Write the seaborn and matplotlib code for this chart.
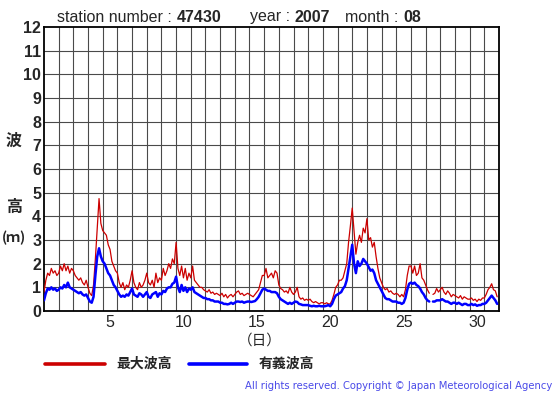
import numpy as np
import pandas as pd
import matplotlib.pyplot as plt
from matplotlib.lines import Line2D
import seaborn as sns


# Wave heights (m), 3-hourly (00,03,...,21h), one row per day
max_wave = [
    0.8, 1.3, 1.6, 1.5, 1.8, 1.6, 1.7, 1.5,
    1.6, 1.9, 1.7, 2.0, 1.7, 1.9, 1.6, 1.8,
    1.7, 1.5, 1.4, 1.3, 1.4, 1.2, 1.1, 1.3,
    1.0, 0.75, 0.65, 1.1, 2.2, 3.5, 4.75, 3.7,
    3.4, 3.3, 3.2, 2.8, 2.6, 2.1, 1.9, 1.7,
    1.6, 1.2, 1.0, 1.2, 0.9, 1.1, 1.0, 1.3,
    1.7, 1.2, 1.0, 0.9, 1.2, 1.0, 1.1, 1.3,
    1.6, 1.2, 1.1, 1.3, 1.0, 1.6, 1.2, 1.4,
    1.3, 1.8, 1.5, 1.7, 2.0, 1.8, 2.2, 2.0,
    2.9, 1.8, 1.5, 1.9, 1.4, 1.8, 1.3, 1.6,
    1.4, 1.9, 1.3, 1.2, 1.1, 1.0, 1.0, 0.9,
    0.85, 0.8, 0.9, 0.75, 0.8, 0.7, 0.75, 0.7,
    0.65, 0.75, 0.6, 0.7, 0.55, 0.65, 0.7, 0.6,
    0.7, 0.8, 0.85, 0.7, 0.75, 0.65, 0.7, 0.75,
    0.7, 0.65, 0.6, 0.7, 0.8, 0.9, 1.2, 1.5,
    1.5, 1.8, 1.4, 1.5, 1.6, 1.4, 1.7, 1.6,
    1.1, 0.95, 0.9, 0.8, 0.85, 0.75, 1.0, 0.8,
    0.7, 0.8, 1.0, 0.6, 0.5, 0.55, 0.45, 0.5,
    0.45, 0.5, 0.4, 0.35, 0.4, 0.35, 0.3, 0.35,
    0.35, 0.3, 0.35, 0.3, 0.3, 0.45, 0.7, 1.0,
    1.1, 1.3, 1.3, 1.4, 1.7, 2.0, 2.9, 3.6,
    4.35, 3.4, 2.4, 2.9, 3.2, 2.9, 3.5, 3.3,
    3.9, 3.0, 3.1, 2.7, 2.9, 2.3, 1.8, 1.4,
    1.2, 1.0, 0.9, 0.95, 0.8, 0.85, 0.75, 0.7,
    0.75, 0.7, 0.6, 0.7, 0.6, 0.9, 1.5, 1.9,
    1.9, 1.6, 1.9, 1.5, 1.6, 2.0, 1.4, 1.3,
    1.1, 0.9, 0.75, np.nan, 0.7, 0.75, 0.95, 0.8,
    0.9, 1.0, 0.8, 0.7, 0.85, 0.75, 0.6, 0.7,
    0.65, 0.6, 0.55, 0.65, 0.5, 0.6, 0.55, 0.5,
    0.5, 0.55, 0.45, 0.5, 0.4, 0.5, 0.45, 0.55,
    0.55, 0.7, 0.9, 1.0, 1.15, 0.9, 0.85, 0.6,
]

sig_wave = [
    0.45, 0.75, 0.95, 0.9, 1.0, 0.9, 0.95, 0.85,
    0.9, 1.0, 0.95, 1.1, 1.0, 1.2, 1.0, 0.95,
    0.9, 0.85, 0.8, 0.75, 0.8, 0.7, 0.65, 0.7,
    0.55, 0.4, 0.35, 0.6, 1.5, 2.3, 2.65, 2.3,
    2.1, 2.0, 1.8, 1.6, 1.5, 1.3, 1.1, 1.0,
    0.85, 0.7, 0.6, 0.65, 0.6, 0.7, 0.65, 0.8,
    0.95, 0.7, 0.65, 0.6, 0.75, 0.7, 0.6, 0.7,
    0.8, 0.6, 0.55, 0.7, 0.75, 0.8, 0.6, 0.75,
    0.7, 0.85, 0.8, 0.95, 1.0, 1.0, 1.15, 1.2,
    1.45, 1.0, 0.8, 1.1, 0.85, 1.0, 0.8, 0.95,
    0.9, 1.0, 0.8, 0.75, 0.7, 0.65, 0.6, 0.55,
    0.55, 0.5, 0.5, 0.45, 0.45, 0.4, 0.4, 0.4,
    0.35, 0.35, 0.3, 0.3, 0.28, 0.3, 0.35, 0.3,
    0.35, 0.4, 0.4, 0.38, 0.4, 0.35, 0.38, 0.4,
    0.4, 0.38, 0.4, 0.42, 0.5, 0.6, 0.75, 0.9,
    0.95, 0.9, 0.85, 0.85, 0.8, 0.8, 0.8, 0.75,
    0.6, 0.5, 0.45, 0.4, 0.35, 0.3, 0.35, 0.3,
    0.35, 0.4, 0.38, 0.3, 0.28, 0.25, 0.25, 0.25,
    0.25, 0.22, 0.2, 0.22, 0.2, 0.2, 0.22, 0.2,
    0.2, 0.2, 0.22, 0.25, 0.2, 0.3, 0.5, 0.65,
    0.7, 0.75, 0.8, 0.95, 1.05, 1.3, 1.8, 2.3,
    2.8, 2.0, 1.6, 2.1, 1.9, 2.0, 2.2, 2.1,
    2.0, 1.85, 1.7, 1.75, 1.6, 1.3, 1.15, 1.0,
    0.85, 0.7, 0.55, 0.5, 0.5, 0.45, 0.4, 0.4,
    0.4, 0.35, 0.35, 0.3, 0.35, 0.55, 0.9, 1.15,
    1.2, 1.15, 1.2, 1.1, 1.05, 0.95, 0.8, 0.7,
    0.55, 0.45, 0.4, np.nan, 0.4, 0.4, 0.45, 0.45,
    0.45, 0.5, 0.45, 0.4, 0.4, 0.35, 0.3, 0.35,
    0.35, 0.3, 0.35, 0.3, 0.25, 0.3, 0.3, 0.25,
    0.25, 0.3, 0.25, 0.28, 0.22, 0.25, 0.25, 0.3,
    0.3, 0.35, 0.45, 0.55, 0.65, 0.55, 0.45, 0.3,
]

day_ticks = [5, 10, 15, 20, 25, 30]
height_ticks = list(range(0, 13))

header = [("station number :", "47430"), ("year :", "2007"), ("month :", "08")]
header_x = [57, 250, 345]

STEP_HOURS = 3
RED = "#cc0000"
BLUE = "#0000ff"
W, H = 555, 395

sns.set_style("white")
plt.rcParams["font.family"] = ["Liberation Sans", "DejaVu Sans"]
CJK = ["Noto Sans CJK JP", "DejaVu Sans"]


def series_frame(values):
    df = pd.DataFrame({"h": values})
    # day d is centred on x = d
    df["x"] = 0.5 + np.arange(len(df)) * STEP_HOURS / 24
    df["seg"] = df["h"].isna().cumsum()
    return df.dropna()


def fx(px):
    return px / W


def fy(py):
    return 1 - py / H


fig = plt.figure(figsize=(W / 100, H / 100), dpi=100)
ax = fig.add_axes([fx(44), fy(311), 455 / W, 284 / H])

sns.lineplot(data=series_frame(max_wave), x="x", y="h", units="seg",
             estimator=None, color=RED, lw=0.9, ax=ax, zorder=3)
sns.lineplot(data=series_frame(sig_wave), x="x", y="h", units="seg",
             estimator=None, color=BLUE, lw=1.8, ax=ax, zorder=4)

ax.set_xlim(0.5, 31.5)
ax.set_ylim(0, 12)
ax.set_xticks(day_ticks)
ax.set_yticks(height_ticks)
ax.set_xticklabels([str(d) for d in day_ticks], fontsize=11.5)
ax.set_yticklabels([str(v) for v in height_ticks], fontsize=11.5, fontweight="bold")
ax.tick_params(axis="both", which="both", length=0)
ax.tick_params(axis="x", pad=3)
ax.tick_params(axis="y", pad=2)
ax.set_xlabel("")
ax.set_ylabel("")

ax.grid(False)
for v in height_ticks[1:-1]:
    ax.axhline(v, color="#4a4a4a", lw=0.8, zorder=1)
for d in np.arange(1.5, 31.5, 1):
    ax.axvline(d, color="#4a4a4a", lw=0.8, zorder=1)

for s in ax.spines.values():
    s.set_visible(True)
    s.set_color("black")
    s.set_linewidth(1.3)

# header: regular label followed by bold number
renderer = fig.canvas.get_renderer()
for (label, num), x0 in zip(header, header_x):
    t = fig.text(fx(x0), fy(17), label + " ", fontsize=11.5, va="center")
    x1 = t.get_window_extent(renderer).x1
    fig.text(x1 / W, fy(17), num, fontsize=11.5, fontweight="bold", va="center")

# y axis label, stacked
fig.text(fx(14), fy(141), "波", family=CJK, fontsize=11.5, fontweight="bold",
         ha="center", va="center")
fig.text(fx(14), fy(207), "高", family=CJK, fontsize=11.5, fontweight="bold",
         ha="center", va="center")
fig.text(fx(14), fy(238), "(ｍ)", family=CJK, fontsize=10, fontweight="bold",
         ha="center", va="center")

fig.text(fx(260), fy(341), "（日）", family=CJK, fontsize=10.5,
         ha="center", va="center")

# legend
fig.add_artist(Line2D([fx(45), fx(105)], [fy(364), fy(364)], color=RED, lw=2.6))
fig.text(fx(116), fy(364), "最大波高", family=CJK, fontsize=10, fontweight="bold",
         va="center")
fig.add_artist(Line2D([fx(189), fx(247)], [fy(364), fy(364)], color=BLUE, lw=2.6))
fig.text(fx(259), fy(364), "有義波高", family=CJK, fontsize=10, fontweight="bold",
         va="center")

fig.text(fx(552), fy(386), "All rights reserved. Copyright © Japan Meteorological Agency",
         fontsize=7.2, color="#4a4ae8", ha="right", va="center", family="DejaVu Sans")

fig.savefig("out.png", dpi=100)
